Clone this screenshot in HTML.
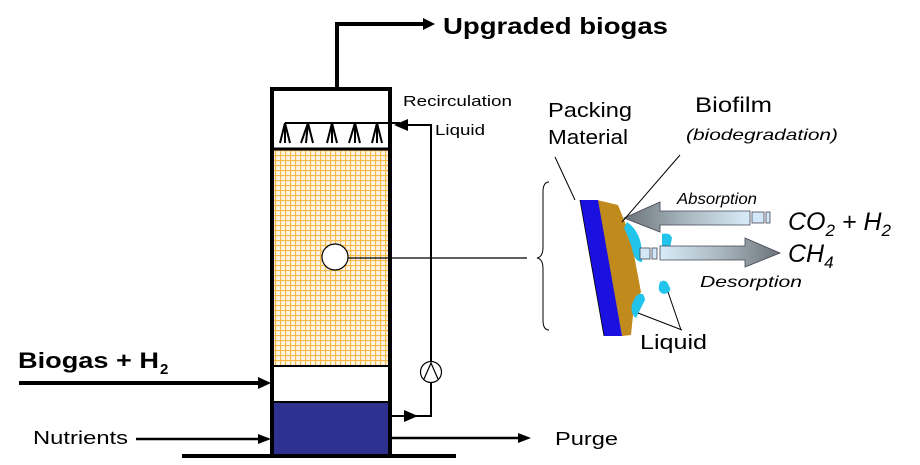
<!DOCTYPE html>
<html><head><meta charset="utf-8"><style>html,body{margin:0;padding:0;background:#fff}svg{display:block}</style></head>
<body>
<svg width="920" height="465" viewBox="0 0 920 465" xmlns="http://www.w3.org/2000/svg" font-family="Liberation Sans, sans-serif">
<defs>
<pattern id="grid" width="5" height="5" patternUnits="userSpaceOnUse">
<rect width="5" height="5" fill="#fff6e6"/>
<path d="M0 0.5H5M0.5 0V5" stroke="#f8b848" stroke-width="1.3"/>
</pattern>
<linearGradient id="ga" x1="0" y1="0" x2="1" y2="0">
<stop offset="0" stop-color="#6a7378"/><stop offset="0.5" stop-color="#aab8c0"/><stop offset="1" stop-color="#d8ecf8"/>
</linearGradient>
<linearGradient id="gd" x1="1" y1="0" x2="0" y2="0">
<stop offset="0" stop-color="#6a7378"/><stop offset="0.5" stop-color="#aab8c0"/><stop offset="1" stop-color="#d8ecf8"/>
</linearGradient>
</defs>
<rect x="273" y="150" width="116" height="215" fill="url(#grid)"/>
<rect x="273" y="403" width="116" height="52" fill="#2e318f"/>
<rect x="272" y="89" width="118" height="367" fill="none" stroke="#000" stroke-width="4"/>
<line x1="272" y1="149" x2="390" y2="149" stroke="#000" stroke-width="3"/>
<line x1="272" y1="366" x2="390" y2="366" stroke="#000" stroke-width="2"/>
<line x1="272" y1="402" x2="390" y2="402" stroke="#000" stroke-width="2"/>
<line x1="182" y1="456" x2="456" y2="456" stroke="#000" stroke-width="4"/>
<polyline points="337,88 337,24 425,24" fill="none" stroke="#000" stroke-width="4"/>
<polygon points="423,18 435,24 423,30" fill="#000"/>
<text x="443" y="34" font-size="23" font-weight="bold" textLength="225" lengthAdjust="spacingAndGlyphs">Upgraded biogas</text>
<line x1="285" y1="123" x2="400" y2="123" stroke="#000" stroke-width="2"/>
<g stroke="#000" stroke-width="2" fill="none">
<path d="M285 123 L280 143 M285 123 L285 143 M285 123 L290 143"/>
<path d="M308 123 L301 143 M308 123 L306 143 M308 123 L313 143"/>
<path d="M332 123 L327 143 M332 123 L332 143 M332 123 L337 143"/>
<path d="M355 123 L349 143 M355 123 L355 143 M355 123 L360 143"/>
<path d="M377 123 L372 143 M377 123 L377 143 M377 123 L382 143"/>
</g>
<polyline points="405,125 431,125 431,362" fill="none" stroke="#000" stroke-width="2"/>
<polygon points="394,125 408,119 408,131" fill="#000"/>
<circle cx="431" cy="372" r="10.5" fill="#fff" stroke="#000" stroke-width="1.2"/>
<path d="M424 379 L431 363 L438 379" fill="none" stroke="#000" stroke-width="1.2"/>
<polyline points="431,383 431,416 390,416" fill="none" stroke="#000" stroke-width="2"/>
<polygon points="404,410 418,416 404,422" fill="#000"/>
<text x="403" y="106" font-size="15" textLength="109" lengthAdjust="spacingAndGlyphs">Recirculation</text>
<text x="435" y="135" font-size="15" textLength="50" lengthAdjust="spacingAndGlyphs">Liquid</text>
<line x1="19" y1="383" x2="262" y2="383" stroke="#000" stroke-width="4"/>
<polygon points="258,377 271,383 258,389" fill="#000"/>
<text x="18" y="368" font-size="22" font-weight="bold" textLength="141" lengthAdjust="spacingAndGlyphs">Biogas + H</text><text x="160" y="374" font-size="15" font-weight="bold">2</text>
<line x1="136" y1="439" x2="262" y2="439" stroke="#000" stroke-width="2.5"/>
<polygon points="258,434 271,439 258,444" fill="#000"/>
<text x="33" y="444" font-size="18" textLength="95" lengthAdjust="spacingAndGlyphs">Nutrients</text>
<line x1="390" y1="438" x2="522" y2="438" stroke="#000" stroke-width="2.5"/>
<polygon points="518,433 531,438 518,443" fill="#000"/>
<text x="555" y="445" font-size="18" textLength="63" lengthAdjust="spacingAndGlyphs">Purge</text>
<circle cx="335" cy="257" r="13" fill="#fff" stroke="#000" stroke-width="1.2"/>
<line x1="348" y1="258" x2="527" y2="258" stroke="#000" stroke-width="1.2"/>
<path d="M549 182 Q543 182 543 192 L543 247 Q543 257 537 258 Q543 259 543 269 L543 320 Q543 330 549 330" fill="none" stroke="#000" stroke-width="1"/>
<polygon points="597,200 618,205 626,225 634,255 641,292 634,305 631,335 622,336 597,200" fill="#c08a1c"/>
<polygon points="580,200 598,200 622,336 604,336" fill="#1a10e0"/>
<path d="M580 200 L604 336" stroke="#000" stroke-width="0.8"/>
<g fill="#22c4ec">
<path d="M627 222 Q636 228 640 240 Q643 252 642 262 Q634 262 632 248 Q628 236 624 228 Z"/>
<path d="M646 211 Q652 209 654 216 L648 218 Z"/>
<path d="M662 234 Q670 232 672 238 L670 248 L662 248 Z"/>
<path d="M660 282 Q666 278 669 286 Q673 292 664 294 Q656 292 660 282 Z"/>
<path d="M636 296 Q644 290 645 300 Q640 310 636 318 Q630 314 632 304 Z"/>
</g>
<polygon points="750,211 660,211 660,202 624,218 660,232 660,225 750,225" fill="url(#ga)" stroke="#445" stroke-width="0.8"/>
<rect x="752" y="212" width="12" height="11" fill="#d0e8f8" stroke="#445" stroke-width="0.8"/>
<rect x="766" y="212" width="4" height="11" fill="#d0e8f8" stroke="#445" stroke-width="0.8"/>
<polygon points="660,246 745,246 745,238 780,253 745,267 745,260 660,260" fill="url(#gd)" stroke="#445" stroke-width="0.8"/>
<rect x="640" y="248" width="10" height="11" fill="#d0e8f8" stroke="#445" stroke-width="0.8"/>
<rect x="652" y="248" width="5" height="11" fill="#d0e8f8" stroke="#445" stroke-width="0.8"/>
<line x1="555" y1="157" x2="575" y2="200" stroke="#000" stroke-width="1"/>
<line x1="680" y1="155" x2="622" y2="222" stroke="#000" stroke-width="1"/>
<line x1="638" y1="313" x2="682" y2="330" stroke="#000" stroke-width="1"/>
<line x1="668" y1="292" x2="681" y2="330" stroke="#000" stroke-width="1"/>
<text x="548" y="117" font-size="20" textLength="84" lengthAdjust="spacingAndGlyphs">Packing</text>
<text x="548" y="144" font-size="20" textLength="80" lengthAdjust="spacingAndGlyphs">Material</text>
<text x="695" y="112" font-size="21" textLength="77" lengthAdjust="spacingAndGlyphs">Biofilm</text>
<text x="686" y="140" font-size="16" font-style="italic" textLength="152" lengthAdjust="spacingAndGlyphs">(biodegradation)</text>
<text x="677" y="204" font-size="16" font-style="italic" textLength="80" lengthAdjust="spacingAndGlyphs">Absorption</text>
<text x="700" y="287" font-size="16" font-style="italic" textLength="102" lengthAdjust="spacingAndGlyphs">Desorption</text>
<text x="788" y="230" font-size="25" font-style="italic">CO<tspan font-size="17" dy="6">2</tspan><tspan dy="-6"> + H</tspan><tspan font-size="17" dy="6">2</tspan></text>
<text x="788" y="262" font-size="25" font-style="italic">CH<tspan font-size="17" dy="6">4</tspan></text>
<text x="640" y="349" font-size="20" textLength="67" lengthAdjust="spacingAndGlyphs">Liquid</text>
</svg>
</body></html>
